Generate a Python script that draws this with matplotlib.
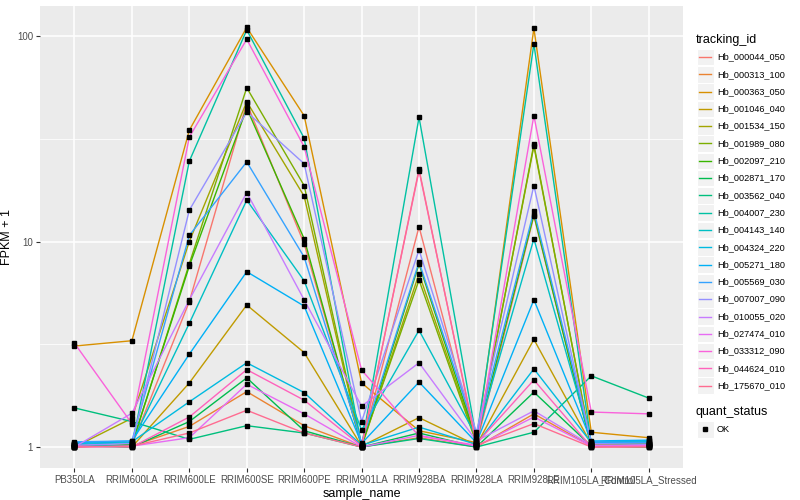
import numpy as np
import matplotlib
matplotlib.use("Agg")
import matplotlib.pyplot as plt
from matplotlib.patches import Rectangle
from matplotlib.lines import Line2D

plt.rcParams['font.family'] = ['Liberation Sans', 'DejaVu Sans']

samples = ['PB350LA', 'RRIM600LA', 'RRIM600LE', 'RRIM600SE', 'RRIM600PE',
           'RRIM901LA', 'RRIM928BA', 'RRIM928LA', 'RRIM928LE',
           'RRIM105LA_Control', 'RRIM105LA_Stressed']

tracking_ids = ['Hb_000044_050', 'Hb_000313_100', 'Hb_000363_050', 'Hb_001046_040',
                'Hb_001534_150', 'Hb_001989_080', 'Hb_002097_210', 'Hb_002871_170',
                'Hb_003562_040', 'Hb_004007_230', 'Hb_004143_140', 'Hb_004324_220',
                'Hb_005271_180', 'Hb_005569_030', 'Hb_007007_090', 'Hb_010055_020',
                'Hb_027474_010', 'Hb_033312_090', 'Hb_044624_010', 'Hb_175670_010']

# ggplot hue palette, 20 levels
colors = ['#F8766D', '#EA8331', '#D89000', '#C09B00', '#A3A500', '#7CAE00',
          '#39B600', '#00BB4E', '#00BF7D', '#00C1A3', '#00BFC4', '#00BAE0',
          '#00B0F6', '#35A2FF', '#9590FF', '#C77CFF', '#E76BF3', '#FA62DB',
          '#FF62BC', '#FF6C91']

# FPKM + 1, one row per tracking_id, one column per sample
fpkm_plus1 = [
    [1.00, 1.02, 5.10, 47.0, 9.75, 1.02, 11.8, 1.03, 13.3, 1.02, 1.01],
    [1.02, 1.01, 1.26, 1.86, 1.27, 1.00, 1.11, 1.00, 1.45, 1.01, 1.02],
    [3.10, 3.29, 34.8, 110., 40.9, 2.05, 1.20, 1.05, 109., 1.18, 1.11],
    [1.03, 1.00, 2.05, 4.91, 2.88, 1.01, 1.39, 1.02, 3.34, 1.03, 1.04],
    [1.00, 1.38, 10.0, 47.9, 16.6, 1.00, 6.97, 1.06, 29.1, 1.02, 1.03],
    [1.01, 1.02, 7.80, 56.0, 18.7, 1.02, 6.50, 1.04, 29.7, 1.01, 1.00],
    [1.00, 1.03, 7.60, 44.5, 10.3, 1.01, 7.77, 1.08, 13.5, 1.00, 1.02],
    [1.01, 1.00, 1.33, 2.17, 1.20, 1.00, 1.17, 1.00, 1.85, 1.01, 1.00],
    [1.55, 1.33, 1.09, 1.27, 1.17, 1.00, 1.10, 1.00, 1.18, 2.22, 1.73],
    [1.02, 1.01, 24.6, 107., 31.8, 1.01, 40.2, 1.10, 91.4, 1.04, 1.05],
    [1.03, 1.05, 4.00, 15.9, 6.44, 1.21, 3.70, 1.12, 10.3, 1.06, 1.07],
    [1.04, 1.06, 1.66, 2.57, 1.84, 1.02, 1.25, 1.03, 2.40, 1.05, 1.06],
    [1.05, 1.07, 2.83, 7.13, 4.85, 1.04, 2.07, 1.05, 5.21, 1.07, 1.08],
    [1.06, 1.07, 10.7, 24.4, 8.40, 1.05, 7.95, 1.15, 14.1, 1.06, 1.05],
    [1.02, 1.04, 14.2, 42.7, 23.9, 1.33, 9.10, 1.18, 18.7, 1.04, 1.03],
    [1.00, 1.46, 5.20, 17.3, 5.20, 1.58, 2.57, 1.07, 1.50, 1.02, 1.01],
    [1.00, 1.01, 1.11, 2.02, 1.45, 1.00, 1.14, 1.01, 1.40, 1.01, 1.02],
    [3.20, 1.30, 32.2, 96.4, 28.9, 2.37, 1.13, 1.02, 41.0, 1.48, 1.45],
    [1.01, 1.00, 1.40, 2.38, 1.69, 1.01, 22.1, 1.04, 2.12, 1.00, 1.01],
    [1.00, 1.01, 1.17, 1.51, 1.17, 1.00, 22.5, 1.02, 1.30, 1.00, 1.00],
]

fig = plt.figure(figsize=(8, 5), dpi=100)
ax = fig.add_axes([0.05, 0.064, 0.804, 0.923])
ax.set_facecolor('#EBEBEB')

x = np.arange(len(samples))
vals = np.array(fpkm_plus1)
for row, col in zip(vals, colors):
    ax.plot(x, row, color=col, lw=1.0, zorder=3)
for row in vals:
    ax.plot(x, row, ls='none', marker='s', ms=3, color='black', zorder=4)

ax.set_yscale('log')
lo, hi = np.log10(vals.min()), np.log10(vals.max())
pad = (hi - lo) * 0.05
ax.set_ylim(10 ** (lo - pad), 10 ** (hi + pad))
ax.set_xlim(-0.6, len(samples) - 0.4)

ax.set_yticks([1, 10, 100])
ax.set_yticklabels(['1', '10', '100'])
ax.set_yticks([10 ** 0.5, 10 ** 1.5], minor=True)
ax.yaxis.set_minor_formatter(plt.NullFormatter())
ax.set_xticks(x)
ax.set_xticklabels(samples)

ax.grid(True, which='major', color='white', lw=1.1, zorder=0)
ax.grid(True, which='minor', axis='y', color='white', lw=0.55, zorder=0)
ax.set_axisbelow(True)
for s in ax.spines.values():
    s.set_visible(False)
ax.tick_params(axis='both', which='major', length=3, color='#333333',
               labelsize=7, labelcolor='#4D4D4D', pad=2)
ax.tick_params(axis='y', which='minor', length=0)

ax.set_xlabel('sample_name', fontsize=9, labelpad=2)
ax.set_ylabel('FPKM + 1', fontsize=9)
ax.yaxis.set_label_coords(-27 / 643, 0.5)

# legend drawn in pixel coordinates like ggplot's guide boxes
H = 500.0
def fy(py):
    return 1 - py / H

fig.text(696 / 800, fy(40.5), 'tracking_id', fontsize=9, va='center', ha='left')
for i, (tid, col) in enumerate(zip(tracking_ids, colors)):
    cy = 57 + i * 17.3
    fig.add_artist(Rectangle((697 / 800, fy(cy + 8.3)), 16.5 / 800, 16.6 / H,
                             transform=fig.transFigure, facecolor='#F2F2F2',
                             edgecolor='white', lw=0.8))
    fig.add_artist(Line2D([699 / 800, 711 / 800], [fy(cy), fy(cy)],
                          transform=fig.transFigure, color=col, lw=1.0))
    fig.text(717 / 800, fy(cy), tid, fontsize=6.6, va='center', ha='left')

fig.text(696 / 800, fy(411.5), 'quant_status', fontsize=9, va='center', ha='left')
fig.add_artist(Rectangle((697 / 800, fy(437.5)), 16.5 / 800, 16.6 / H,
                         transform=fig.transFigure, facecolor='#F2F2F2',
                         edgecolor='white', lw=0.8))
fig.add_artist(Line2D([705 / 800], [fy(429.3)], transform=fig.transFigure,
                      marker='s', ms=3, color='black', ls='none'))
fig.text(717 / 800, fy(429.3), 'OK', fontsize=6.6, va='center', ha='left')

fig.savefig('out.png', dpi=100)
